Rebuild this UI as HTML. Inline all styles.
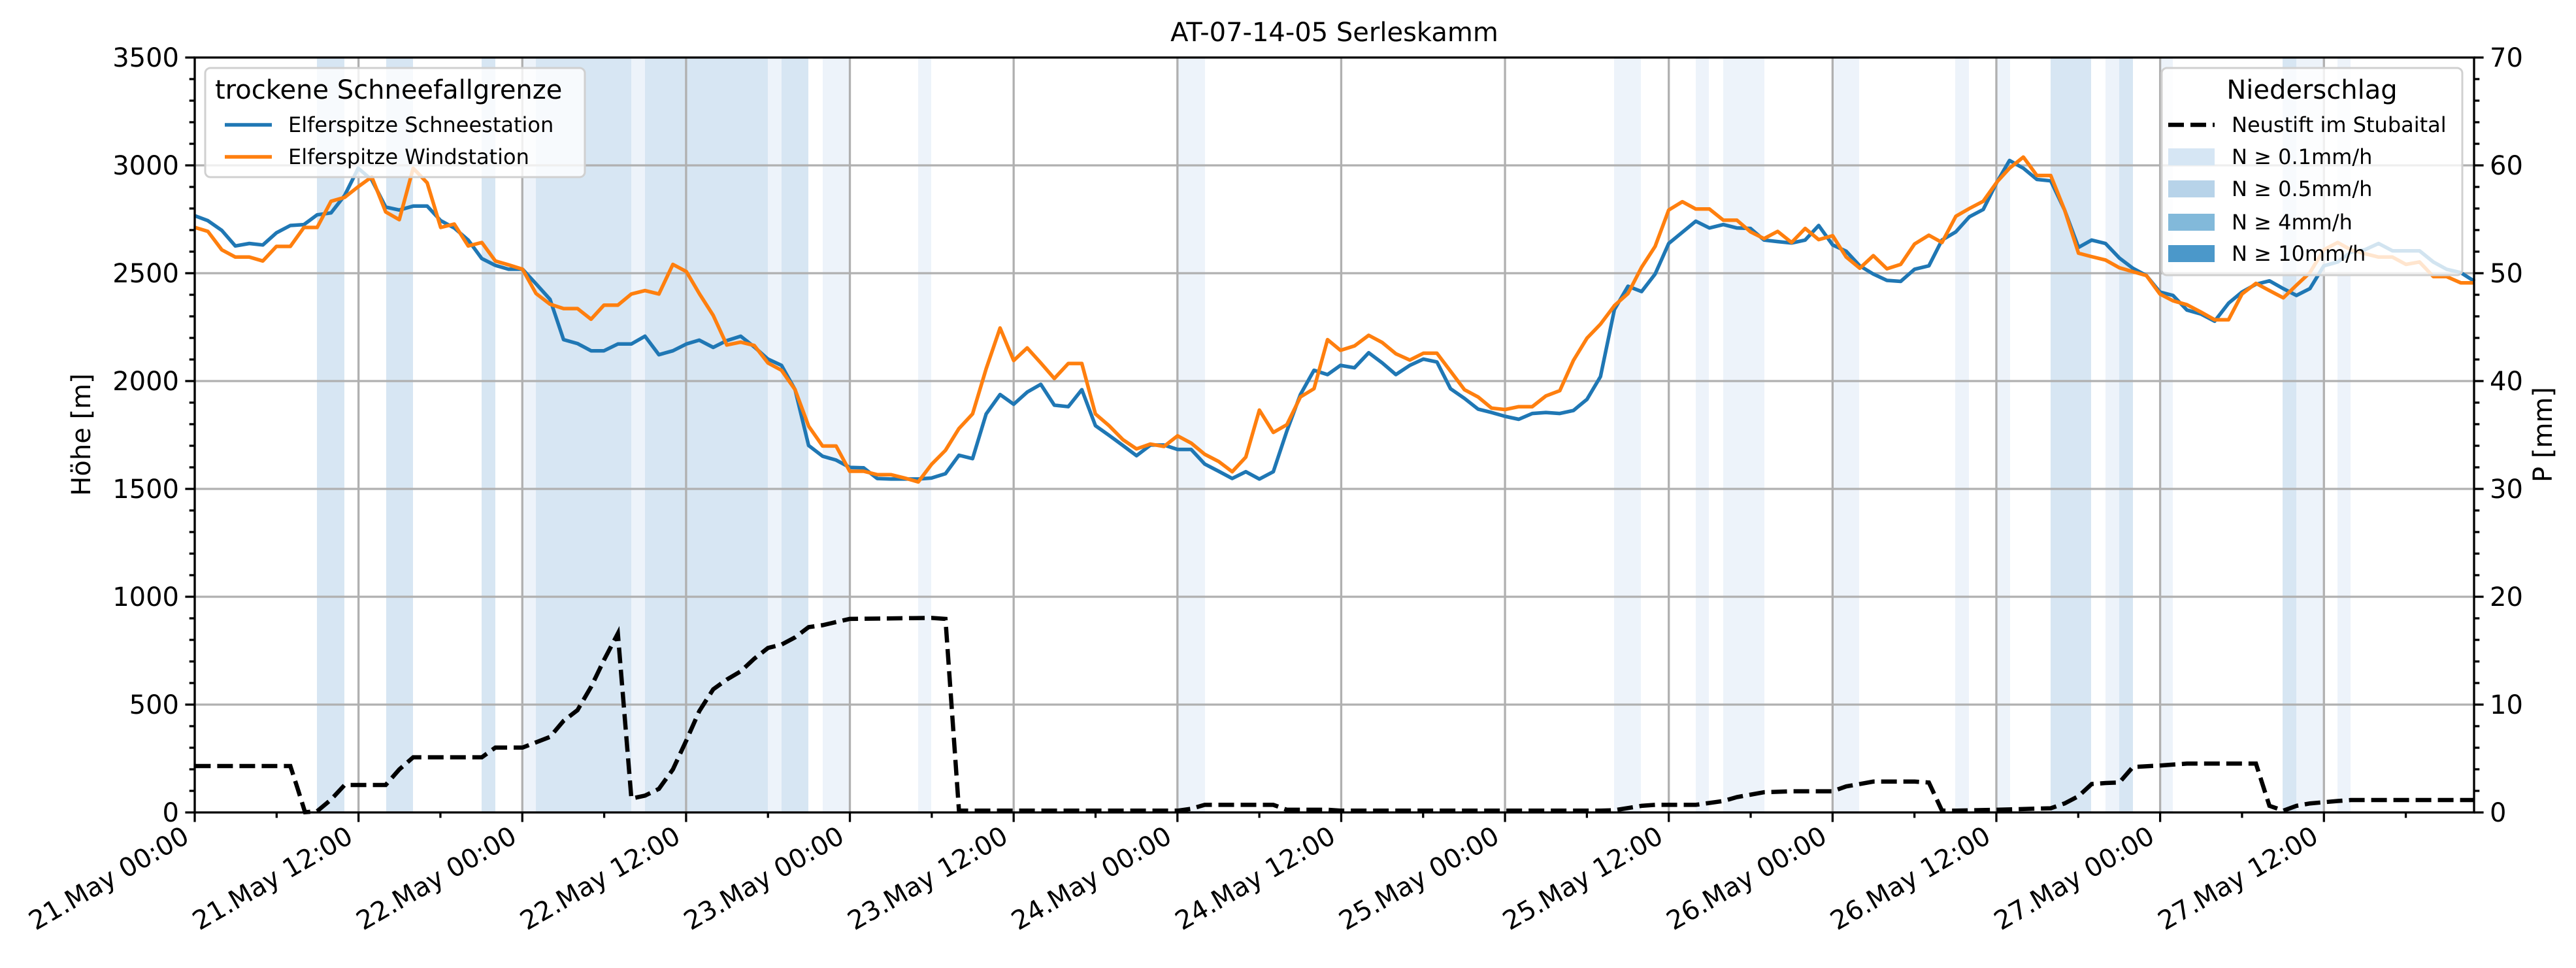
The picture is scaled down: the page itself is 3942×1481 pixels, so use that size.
<!DOCTYPE html>
<html><head><meta charset="utf-8"><style>
html,body{margin:0;padding:0;background:#fff;}
svg{display:block;font-family:"DejaVu Sans","Liberation Sans",sans-serif;}
</style></head><body>
<svg id="s" width="3942" height="1481" xmlns="http://www.w3.org/2000/svg"></svg>
<script>
const S=document.getElementById('s');
let h='';
const L=298,R=3786,T=88,B=1243;
const VL='#d7e6f3',VV='#edf3fa';
const bands=[[485,527,VL],[591,632,VL],[737,758,VL],[800,820,VV],[820,966,VL],[966,987,VV],[987,1175,VL],[1175,1196,VV],[1196,1237,VL],[1259,1300,VV],[1405,1425,VV],[1803,1844,VV],[2470,2511,VV],[2595,2615,VV],[2637,2700,VV],[2805,2845,VV],[2992,3013,VV],[3056,3076,VV],[3138,3200,VL],[3222,3243,VV],[3243,3264,VL],[3305,3325,VV],[3493,3514,VL],[3514,3556,VV],[3577,3597,VV]];
bands.forEach(b=>{h+=`<rect x="${b[0]}" y="${T}" width="${b[1]-b[0]}" height="${B-T}" fill="${b[2]}"/>`;});
const pxh=(R-L)/167;
// grid
for(let i=0;i<=13;i++){const x=L+i*12*pxh;h+=`<line x1="${x}" y1="${T}" x2="${x}" y2="${B}" stroke="#b0b0b0" stroke-width="3.3"/>`;}
for(let v=500;v<3500;v+=500){const y=B-v*(B-T)/3500;h+=`<line x1="${L}" y1="${y}" x2="${R}" y2="${y}" stroke="#b0b0b0" stroke-width="3.3"/>`;}
// data
function conv(arr,x0,sx){return arr.map(p=>[x0+p[0]*sx,85+p[1]*1165/1568]);}
const z4=0.5612,z7=0.574;
const blue=[].concat(
conv([[15,330],[50,340],[88,360],[125,392],[163,387],[200,390],[237,365],[275,350],[312,348],[348,328],[386,324],[423,288],[460,232],[497,256],[535,312],[572,318],[610,310],[648,310],[685,340],[722,355],[760,380],[797,418],[834,432],[870,440],[908,440],[945,470],[983,502],[1020,585],[1058,593],[1095,608],[1130,608],[1168,594],[1205,594],[1242,578],[1280,616],[1318,608],[1355,594],[1390,586],[1428,601],[1465,587],[1503,578],[1540,600]],290,z4),
conv([[27,625],[64,638],[101,688],[138,803],[176,825],[213,833],[250,848],[288,849],[325,871],[362,872],[400,872],[437,872],[473,870],[511,861],[548,823],[585,830],[622,738],[660,698],[697,718],[734,693],[771,677],[808,720],[846,723],[883,688],[920,762],[957,782],[995,803],[1032,824],[1070,802],[1107,802],[1144,811],[1181,811],[1218,841],[1256,856],[1293,871],[1330,857],[1367,872],[1405,857],[1442,773],[1479,698],[1516,648],[1553,657]],1160,z4),
conv([[38,638],[76,643],[115,612],[152,633],[189,657],[227,638],[264,625],[301,631],[338,686],[376,706],[413,728],[450,735],[487,743],[524,749],[561,737],[598,735],[636,737],[673,731],[710,708],[747,661],[785,523],[822,475],[859,486],[896,450],[933,387],[970,364],[1007,341],[1044,355],[1082,348],[1119,355],[1156,356],[1193,380],[1230,383],[1268,386],[1305,380],[1342,350],[1380,390],[1417,403],[1454,433],[1491,450],[1528,463]],2030,z4),
conv([[15,465],[52,440],[90,433],[125,380],[162,363],[198,332],[235,317],[272,260],[305,216],[342,232],[378,255],[415,258],[452,318],[489,395],[524,380],[561,387],[598,417],[634,438],[670,453],[706,487],[741,494],[778,524],[815,532],[852,547],[889,510],[925,487],[962,471],[998,464],[1035,480],[1070,494],[1106,480],[1143,433],[1180,425],[1215,405],[1252,400],[1289,387],[1326,402],[1362,402],[1398,402],[1435,425],[1470,440],[1508,447],[1545,465]],2900,z7));
const orange=[].concat(
conv([[15,354],[50,362],[88,400],[125,415],[163,415],[200,423],[237,393],[275,393],[312,354],[348,354],[386,300],[423,292],[460,270],[497,250],[535,322],[572,338],[610,232],[648,262],[685,354],[722,347],[760,392],[797,385],[834,423],[870,431],[908,440],[945,490],[983,512],[1020,521],[1058,521],[1095,543],[1130,514],[1168,514],[1205,491],[1242,484],[1280,491],[1318,430],[1355,445],[1390,490],[1428,535],[1465,596],[1503,590],[1540,597]],290,z4),
conv([[27,633],[64,648],[101,688],[138,763],[176,804],[213,804],[250,856],[288,856],[325,863],[362,863],[400,870],[437,878],[473,842],[511,813],[548,768],[585,738],[622,645],[660,561],[697,628],[734,602],[771,633],[808,665],[846,634],[883,634],[920,738],[957,762],[995,791],[1032,810],[1070,800],[1107,805],[1144,783],[1181,798],[1218,821],[1256,836],[1293,857],[1330,827],[1367,730],[1405,776],[1442,760],[1479,703],[1516,686],[1553,585]],1160,z4),
conv([[38,607],[76,598],[115,576],[152,591],[189,614],[227,627],[264,613],[301,613],[338,650],[376,688],[413,703],[450,726],[487,729],[524,723],[561,723],[598,701],[636,690],[673,628],[710,582],[747,553],[785,515],[822,490],[859,436],[896,393],[933,318],[970,301],[1007,316],[1044,316],[1082,339],[1119,339],[1156,363],[1193,377],[1230,362],[1268,385],[1305,356],[1342,379],[1380,371],[1417,415],[1454,438],[1491,412],[1528,439]],2030,z4),
conv([[15,430],[52,388],[90,370],[125,385],[162,331],[198,315],[235,300],[272,260],[305,232],[342,209],[378,247],[415,247],[452,318],[489,407],[524,414],[561,421],[598,437],[634,445],[670,453],[706,491],[741,505],[778,513],[815,528],[852,544],[889,544],[925,491],[962,469],[998,484],[1035,499],[1070,473],[1106,447],[1143,400],[1180,385],[1215,400],[1252,408],[1289,415],[1326,415],[1362,430],[1398,425],[1435,455],[1470,455],[1508,468],[1545,468]],2900,z7));
const black=[].concat(
conv([[15,1463],[275,1463],[295,1510],[315,1558],[348,1556],[386,1532],[423,1502],[535,1502],[572,1470],[610,1445],[797,1445],[834,1425],[908,1425],[983,1403],[1020,1370],[1058,1348],[1095,1300],[1130,1245],[1168,1190],[1205,1530],[1242,1524],[1280,1510],[1318,1470],[1355,1410],[1390,1350],[1428,1305],[1465,1285],[1503,1268],[1540,1242]],290,z4),
conv([[27,1220],[64,1213],[101,1198],[138,1177],[176,1173],[250,1160],[473,1158],[511,1160],[548,1555],[1144,1555],[1181,1551],[1218,1543],[1405,1543],[1442,1553],[1553,1553]],1160,z4),
conv([[38,1555],[747,1555],[785,1554],[859,1545],[896,1543],[1007,1543],[1082,1535],[1119,1527],[1193,1517],[1268,1515],[1380,1515],[1417,1505],[1491,1495],[1540,1495]],2030,z4),
conv([[52,1495],[90,1497],[125,1555],[162,1555],[272,1553],[415,1550],[452,1540],[489,1525],[524,1500],[561,1498],[598,1497],[634,1465],[706,1462],[778,1458],[962,1458],[998,1545],[1035,1555],[1070,1545],[1106,1540],[1180,1535],[1215,1533],[1545,1533]],2900,z7));
function pl(a){return a.map(p=>p[0].toFixed(1)+','+p[1].toFixed(1)).join(' ');}
h+=`<polyline points="${pl(black)}" fill="none" stroke="#000" stroke-width="6.5" stroke-dasharray="24 10"/>`;
h+=`<polyline points="${pl(blue)}" fill="none" stroke="#1f77b4" stroke-width="5.5" stroke-linejoin="round"/>`;
h+=`<polyline points="${pl(orange)}" fill="none" stroke="#ff7f0e" stroke-width="5.5" stroke-linejoin="round"/>`;
// spines
h+=`<rect x="${L}" y="${T}" width="${R-L}" height="${B-T}" fill="none" stroke="#000" stroke-width="3.3"/>`;
// x ticks
const lab=['21.May 00:00','21.May 12:00','22.May 00:00','22.May 12:00','23.May 00:00','23.May 12:00','24.May 00:00','24.May 12:00','25.May 00:00','25.May 12:00','26.May 00:00','26.May 12:00','27.May 00:00','27.May 12:00'];
for(let i=0;i<=27;i++){const x=L+i*6*pxh;const maj=i%2==0;h+=`<line x1="${x}" y1="${B}" x2="${x}" y2="${B+(maj?14.6:8.3)}" stroke="#000" stroke-width="3.3"/>`;
if(maj){h+=`<text x="${x-6}" y="${B+44}" font-size="40" text-anchor="end" transform="rotate(-30 ${x-6} ${B+44})">${lab[i/2]}</text>`;}}
// y ticks left
for(let v=0;v<=3500;v+=100){const y=B-v*(B-T)/3500;const maj=v%500==0;h+=`<line x1="${L}" y1="${y}" x2="${L-(maj?14.6:8.3)}" y2="${y}" stroke="#000" stroke-width="3.3"/>`;if(maj)h+=`<text x="${L-24}" y="${y+14}" font-size="40" text-anchor="end">${v}</text>`;}
for(let v=0;v<=70;v+=2){const y=B-v*(B-T)/70;const maj=v%10==0;h+=`<line x1="${R}" y1="${y}" x2="${R+(maj?14.6:8.3)}" y2="${y}" stroke="#000" stroke-width="3.3"/>`;if(maj)h+=`<text x="${R+24}" y="${y+14}" font-size="40">${v}</text>`;}
h+=`<text x="2042" y="63" font-size="40" text-anchor="middle">AT-07-14-05 Serleskamm</text>`;
h+=`<text x="0" y="0" font-size="40" text-anchor="middle" transform="translate(138 665) rotate(-90)">Höhe [m]</text>`;
h+=`<text x="0" y="0" font-size="40" text-anchor="middle" transform="translate(3905 665) rotate(-90)">P [mm]</text>`;
// left legend
h+=`<rect x="314" y="104" width="581" height="167" rx="8" fill="#fff" fill-opacity="0.8" stroke="#d0d0d0" stroke-width="3"/>`;
h+=`<text x="329" y="151" font-size="40">trockene Schneefallgrenze</text>`;
h+=`<line x1="344" y1="191" x2="416" y2="191" stroke="#1f77b4" stroke-width="5.5"/><text x="441" y="202" font-size="32">Elferspitze Schneestation</text>`;
h+=`<line x1="344" y1="240" x2="416" y2="240" stroke="#ff7f0e" stroke-width="5.5"/><text x="441" y="251" font-size="32">Elferspitze Windstation</text>`;
// right legend
h+=`<rect x="3308" y="104" width="460" height="317" rx="8" fill="#fff" fill-opacity="0.8" stroke="#d0d0d0" stroke-width="3"/>`;
h+=`<text x="3538" y="151" font-size="40" text-anchor="middle">Niederschlag</text>`;
h+=`<line x1="3318" y1="191" x2="3389" y2="191" stroke="#000" stroke-width="6.5" stroke-dasharray="24 10"/><text x="3415" y="202" font-size="32">Neustift im Stubaital</text>`;
const pc=['#d6e6f4','#b7d3e9','#82b9da','#4b98ca'],pt=['N ≥ 0.1mm/h','N ≥ 0.5mm/h','N ≥ 4mm/h','N ≥ 10mm/h'];
[240,289,340,388].forEach((y,i)=>{h+=`<rect x="3318" y="${y-13}" width="71" height="26" fill="${pc[i]}"/><text x="3415" y="${y+11}" font-size="32">${pt[i]}</text>`;});
S.innerHTML=h;
</script>
</body></html>
